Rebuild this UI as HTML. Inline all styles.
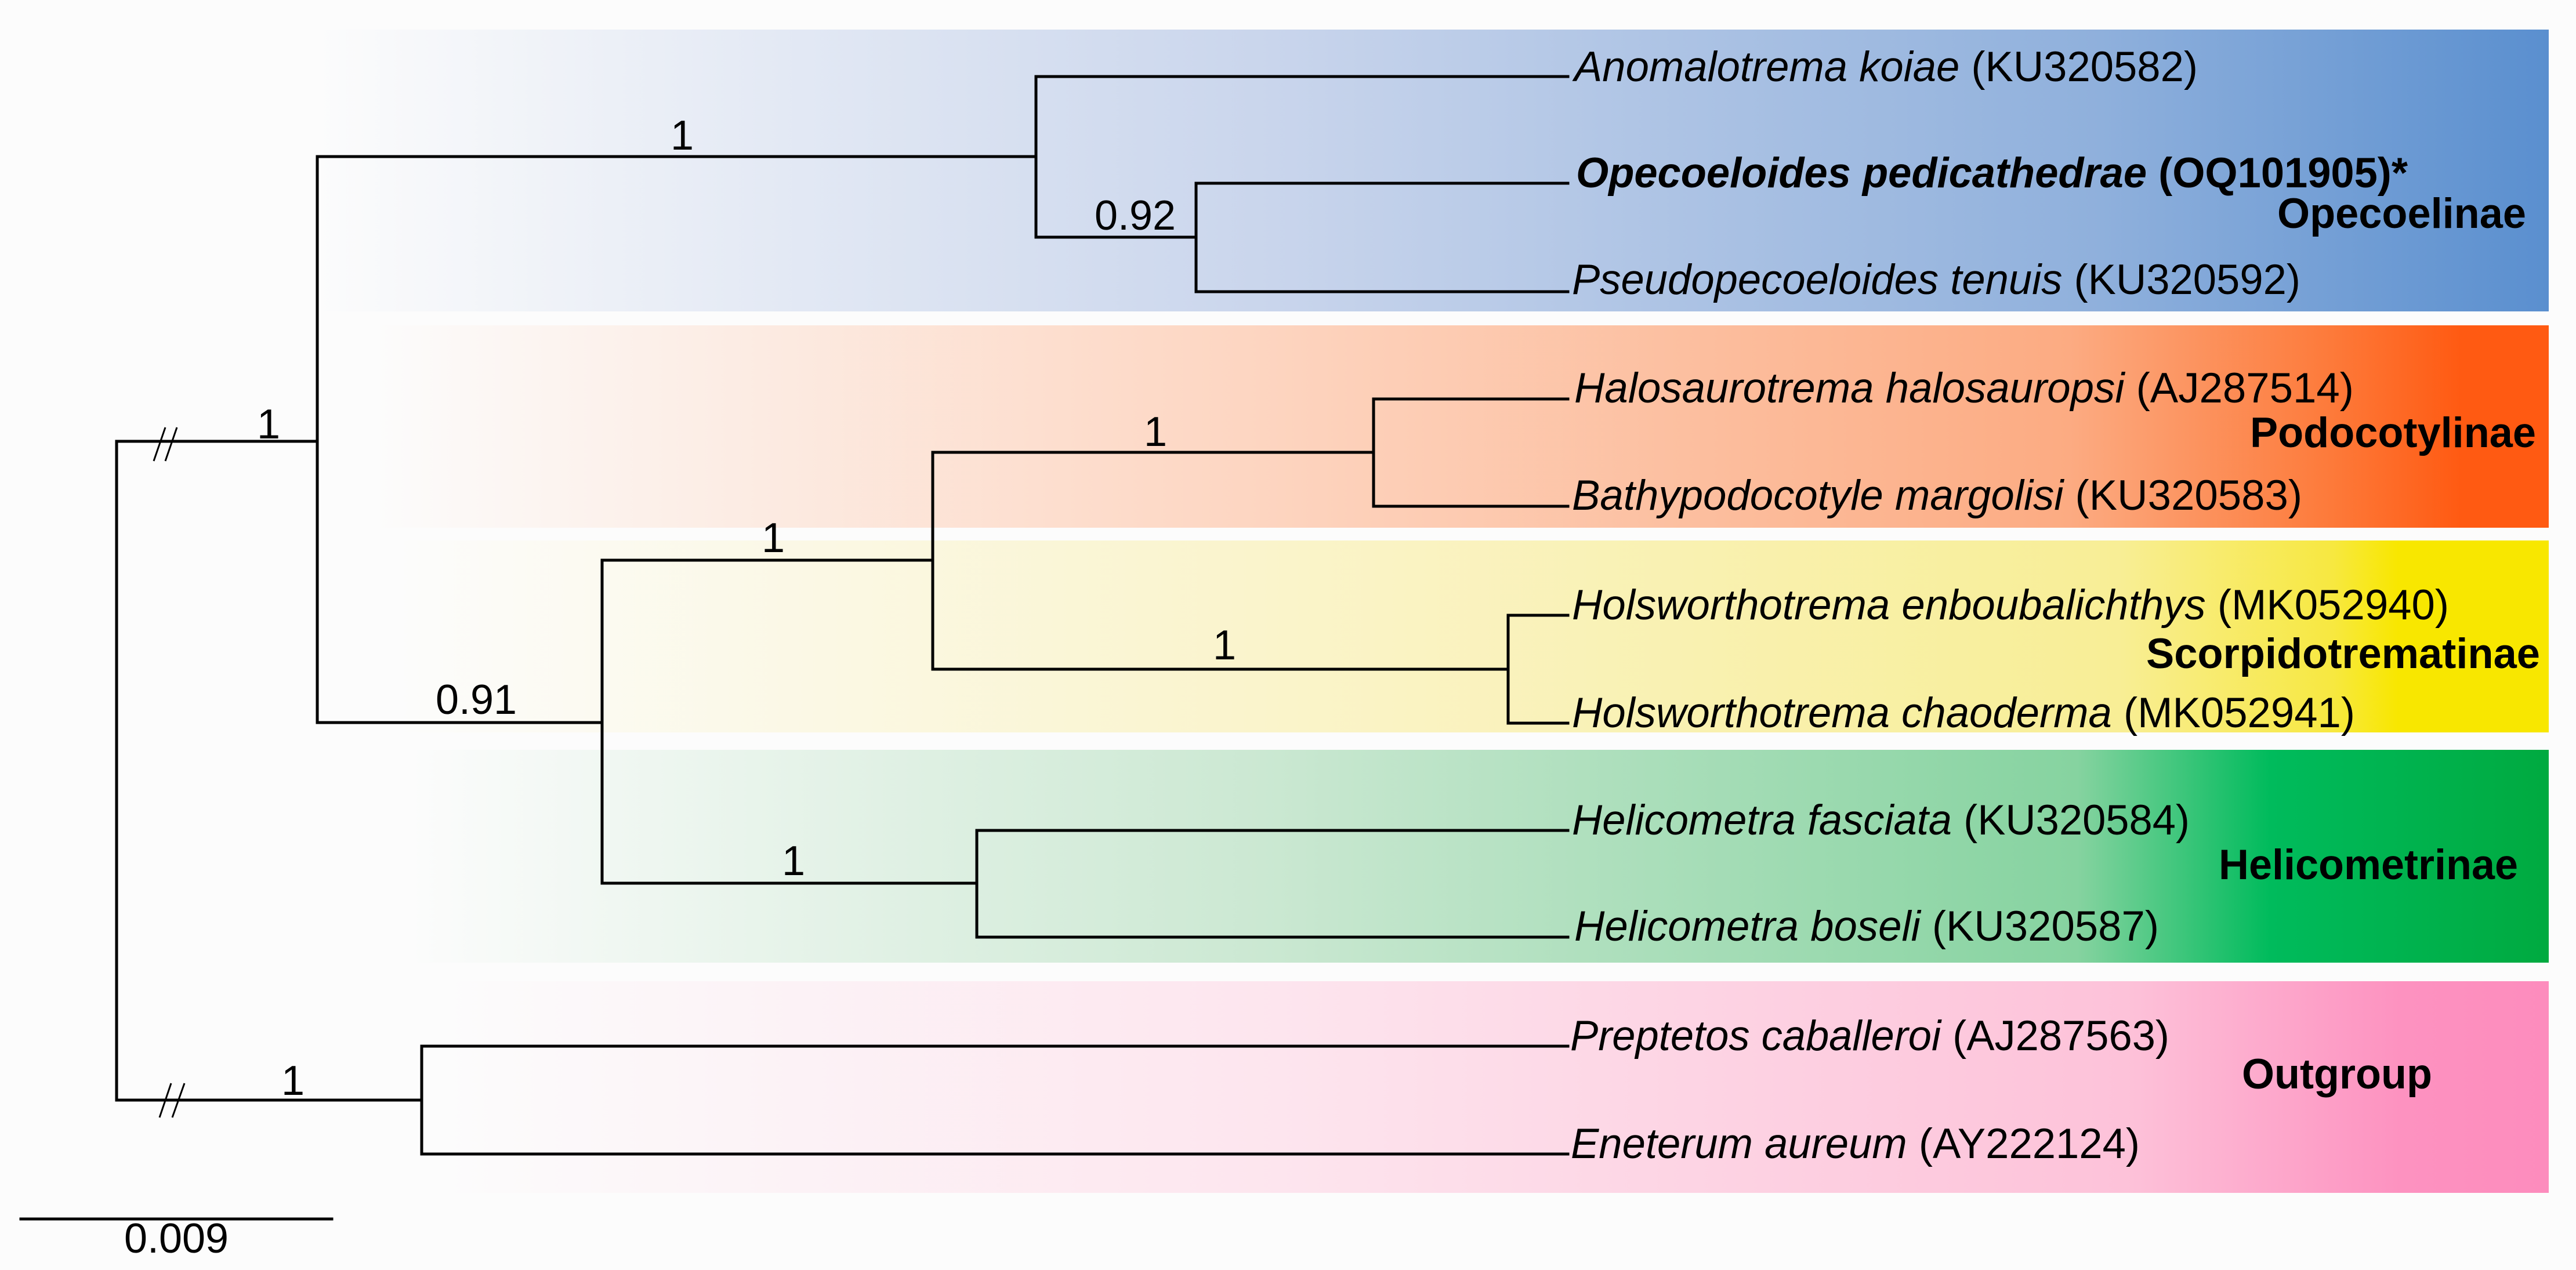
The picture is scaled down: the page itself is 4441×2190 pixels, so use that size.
<!DOCTYPE html>
<html><head><meta charset="utf-8"><style>
html,body{margin:0;padding:0;background:#fcfcfc;}
svg{display:block;}
text{font-family:"Liberation Sans",Arial,sans-serif;fill:#000;}
.t{font-size:73px;}
.b{font-size:73px;font-weight:bold;}
.s{font-size:72px;}
</style></head><body>
<svg width="4441" height="2190" viewBox="0 0 4441 2190" xmlns="http://www.w3.org/2000/svg">
<defs>
<linearGradient id="gb" gradientUnits="userSpaceOnUse" x1="540" y1="0" x2="4394" y2="0">
<stop offset="0" stop-color="#fcfcfc"/><stop offset="0.43" stop-color="#c9d5ec"/><stop offset="0.8" stop-color="#8fb0dc"/><stop offset="1" stop-color="#5a8fcf"/></linearGradient>
<linearGradient id="gp" gradientUnits="userSpaceOnUse" x1="640" y1="0" x2="4394" y2="0">
<stop offset="0" stop-color="#fcfcfc"/><stop offset="0.4" stop-color="#fdd6c2"/><stop offset="0.78" stop-color="#fcab82"/><stop offset="0.9" stop-color="#fd7a3a"/><stop offset="0.96" stop-color="#ff5a12"/><stop offset="1" stop-color="#ff5a12"/></linearGradient>
<linearGradient id="gy" gradientUnits="userSpaceOnUse" x1="680" y1="0" x2="4394" y2="0">
<stop offset="0" stop-color="#fcfcfc"/><stop offset="0.4" stop-color="#faf4cc"/><stop offset="0.8" stop-color="#f8ee96"/><stop offset="0.9" stop-color="#f7e840"/><stop offset="0.93" stop-color="#f8e700"/><stop offset="1" stop-color="#f8e700"/></linearGradient>
<linearGradient id="gg" gradientUnits="userSpaceOnUse" x1="700" y1="0" x2="4394" y2="0">
<stop offset="0" stop-color="#fcfcfc"/><stop offset="0.4" stop-color="#cbe8d2"/><stop offset="0.78" stop-color="#86d3a0"/><stop offset="0.87" stop-color="#00bb5c"/><stop offset="1" stop-color="#00aa40"/></linearGradient>
<linearGradient id="gk" gradientUnits="userSpaceOnUse" x1="750" y1="0" x2="4394" y2="0">
<stop offset="0" stop-color="#fcfcfc"/><stop offset="0.4" stop-color="#fde5ee"/><stop offset="0.8" stop-color="#fdc2d9"/><stop offset="0.93" stop-color="#fd92c0"/><stop offset="1" stop-color="#fd8cbd"/></linearGradient>
</defs>
<rect x="0" y="0" width="4441" height="2190" fill="#fcfcfc"/>
<rect x="540" y="51" width="3854" height="486" fill="url(#gb)"/>
<rect x="640" y="561" width="3754" height="349" fill="url(#gp)"/>
<rect x="680" y="932" width="3714" height="331" fill="url(#gy)"/>
<rect x="700" y="1293" width="3694" height="367" fill="url(#gg)"/>
<rect x="750" y="1692" width="3644" height="365" fill="url(#gk)"/>

<g stroke="#000" stroke-width="5" fill="none" stroke-linecap="square">
<path d="M201 761 V1897"/>
<path d="M201 761 H547"/>
<path d="M201 1897 H727"/>
<path d="M547 270 V1246"/>
<path d="M547 270 H1786"/>
<path d="M547 1246 H1038"/>
<path d="M1786 132 V409"/>
<path d="M1786 132 H2703"/>
<path d="M1786 409 H2062"/>
<path d="M2062 316 V503"/>
<path d="M2062 316 H2703"/>
<path d="M2062 503 H2703"/>
<path d="M1038 966 V1523"/>
<path d="M1038 966 H1608"/>
<path d="M1038 1523 H1684"/>
<path d="M1608 780 V1154"/>
<path d="M1608 780 H2368"/>
<path d="M1608 1154 H2600"/>
<path d="M2368 688 V873"/>
<path d="M2368 688 H2703"/>
<path d="M2368 873 H2703"/>
<path d="M2600 1061 V1247"/>
<path d="M2600 1061 H2703"/>
<path d="M2600 1247 H2703"/>
<path d="M1684 1432 V1616"/>
<path d="M1684 1432 H2703"/>
<path d="M1684 1616 H2703"/>
<path d="M727 1804 V1990"/>
<path d="M727 1804 H2703"/>
<path d="M727 1990 H2703"/>
<path d="M36 2102 H572"/>
</g>
<g stroke="#000" stroke-width="3">
<line x1="265" y1="795" x2="285" y2="737"/>
<line x1="285" y1="795" x2="305" y2="737"/>
<line x1="275" y1="1927" x2="295" y2="1868"/>
<line x1="297" y1="1927" x2="318" y2="1868"/>
</g>

<text class="t" x="2714" y="140" textLength="1075" lengthAdjust="spacingAndGlyphs"><tspan font-style="italic">Anomalotrema koiae</tspan> (KU320582)</text>
<text class="b" x="2717" y="323" textLength="1434" lengthAdjust="spacingAndGlyphs"><tspan font-style="italic">Opecoeloides pedicathedrae</tspan> (OQ101905)*</text>
<text class="t" x="2710" y="507" textLength="1256" lengthAdjust="spacingAndGlyphs"><tspan font-style="italic">Pseudopecoeloides tenuis</tspan> (KU320592)</text>
<text class="t" x="2714" y="694" textLength="1344" lengthAdjust="spacingAndGlyphs"><tspan font-style="italic">Halosaurotrema halosauropsi</tspan> (AJ287514)</text>
<text class="t" x="2710" y="879" textLength="1259" lengthAdjust="spacingAndGlyphs"><tspan font-style="italic">Bathypodocotyle margolisi</tspan> (KU320583)</text>
<text class="t" x="2710" y="1068" textLength="1512" lengthAdjust="spacingAndGlyphs"><tspan font-style="italic">Holsworthotrema enboubalichthys</tspan> (MK052940)</text>
<text class="t" x="2710" y="1254" textLength="1350" lengthAdjust="spacingAndGlyphs"><tspan font-style="italic">Holsworthotrema chaoderma</tspan> (MK052941)</text>
<text class="t" x="2710" y="1439" textLength="1065" lengthAdjust="spacingAndGlyphs"><tspan font-style="italic">Helicometra fasciata</tspan> (KU320584)</text>
<text class="t" x="2714" y="1622" textLength="1008" lengthAdjust="spacingAndGlyphs"><tspan font-style="italic">Helicometra boseli</tspan> (KU320587)</text>
<text class="t" x="2707" y="1811" textLength="1033" lengthAdjust="spacingAndGlyphs"><tspan font-style="italic">Preptetos caballeroi</tspan> (AJ287563)</text>
<text class="t" x="2708" y="1997" textLength="981" lengthAdjust="spacingAndGlyphs"><tspan font-style="italic">Eneterum aureum</tspan> (AY222124)</text>

<text class="b" x="3926" y="393" textLength="429" lengthAdjust="spacingAndGlyphs">Opecoelinae</text>
<text class="b" x="3879" y="771" textLength="493" lengthAdjust="spacingAndGlyphs">Podocotylinae</text>
<text class="b" x="3700" y="1152" textLength="679" lengthAdjust="spacingAndGlyphs">Scorpidotrematinae</text>
<text class="b" x="3825" y="1516" textLength="516" lengthAdjust="spacingAndGlyphs">Helicometrinae</text>
<text class="b" x="3865" y="1877" textLength="328" lengthAdjust="spacingAndGlyphs">Outgroup</text>

<g text-anchor="middle">
<text class="s" x="1176" y="258">1</text>
<text class="s" x="1957" y="396" textLength="140" lengthAdjust="spacingAndGlyphs">0.92</text>
<text class="s" x="463" y="756">1</text>
<text class="s" x="1992" y="769">1</text>
<text class="s" x="1333" y="952">1</text>
<text class="s" x="2111" y="1137">1</text>
<text class="s" x="821" y="1231" textLength="140" lengthAdjust="spacingAndGlyphs">0.91</text>
<text class="s" x="1368" y="1509">1</text>
<text class="s" x="505" y="1888">1</text>
<text class="s" x="304" y="2160" textLength="180" lengthAdjust="spacingAndGlyphs">0.009</text>
</g>
</svg>
</body></html>
